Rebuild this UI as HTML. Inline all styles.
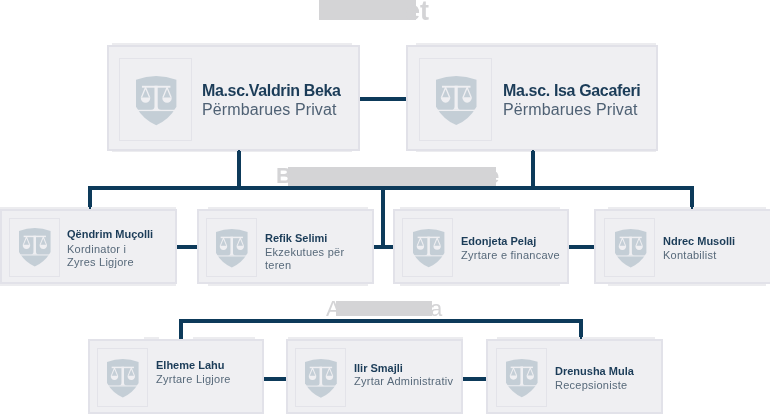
<!DOCTYPE html>
<html><head><meta charset="utf-8"><style>
html,body{margin:0;padding:0;background:#fff;width:770px;height:414px;overflow:hidden;position:relative}
body>div,body>svg{position:absolute}
.t{font-family:"Liberation Sans",sans-serif;white-space:nowrap;line-height:normal;will-change:transform}
.n{font-weight:700;color:#1b3c58}
.r{font-weight:400;color:#57697a;letter-spacing:0.25px}
.h{color:#d4d4d6;font-weight:400}
.b{font-weight:700}
</style></head><body>
<div style="left:319px;top:0px;width:97px;height:20px;background:#d4d4d6;"></div>
<div class="t h b" style="left:405px;top:-4.4px;font-size:27px;">et</div>
<div style="left:112px;top:43px;width:240px;height:2px;background:#ececef;"></div>
<div style="left:112px;top:151px;width:240px;height:1px;background:#ececef;"></div>
<div style="left:107px;top:45px;width:253px;height:106px;background:#efeff2;box-sizing:border-box;border:2px solid #e1e1e8"></div>
<div style="left:119.25px;top:58.2px;width:73.0px;height:83.0px;box-sizing:border-box;border:1.5px solid #e3e3e9"></div>
<svg style="position:absolute;left:136.3px;top:76.3px;overflow:visible" width="40.4" height="49.2" viewBox="0 0 40 49.2" preserveAspectRatio="none"><path d="M0,3.7 Q20,-3.7 40,3.7 L40,30.7 Q32.95,43.45 20,49.2 Q7.05,43.45 0,30.7 Z" fill="#c4ced6"/><g fill="#efeff2" stroke="none"><rect x="-1" y="33.8" width="42" height="1.3"/><rect x="5.9" y="9.8" width="28.2" height="1.9"/><path d="M18.3,9.8 L21.5,9.8 L21.5,30.5 Q21.5,33.9 25,33.9 L14.8,33.9 Q18.3,33.9 18.3,30.5 Z"/><path d="M4.7,21.4 A4.75,5.3 0 0 0 14.2,21.4 Z"/><path d="M26,21.4 A4.75,5.3 0 0 0 35.5,21.4 Z"/></g><g stroke="#efeff2" stroke-width="1.3" fill="none" stroke-linejoin="round"><path d="M5.4,21.5 L9.45,11.5 L13.5,21.5"/><path d="M26.7,21.5 L30.75,11.5 L34.8,21.5"/></g></svg>
<div class="t n" style="left:202px;top:81.52px;font-size:16px;line-height:normal;letter-spacing:-0.35px">Ma.sc.Valdrin Beka</div>
<div class="t r" style="left:202px;top:100.52px;font-size:16px;line-height:normal;letter-spacing:0.12px;color:#4f6174">Përmbarues Privat</div>
<div style="left:416px;top:43px;width:240px;height:2px;background:#ececef;"></div>
<div style="left:416px;top:151px;width:240px;height:1px;background:#ececef;"></div>
<div style="left:406px;top:45px;width:252px;height:106px;background:#efeff2;box-sizing:border-box;border:2px solid #e1e1e8"></div>
<div style="left:419.45px;top:58.2px;width:72.4px;height:82.7px;box-sizing:border-box;border:1.5px solid #e3e3e9"></div>
<svg style="position:absolute;left:435.6px;top:76.4px;overflow:visible" width="40.5" height="49.1" viewBox="0 0 40 49.2" preserveAspectRatio="none"><path d="M0,3.7 Q20,-3.7 40,3.7 L40,30.7 Q32.95,43.45 20,49.2 Q7.05,43.45 0,30.7 Z" fill="#c4ced6"/><g fill="#efeff2" stroke="none"><rect x="-1" y="33.8" width="42" height="1.3"/><rect x="5.9" y="9.8" width="28.2" height="1.9"/><path d="M18.3,9.8 L21.5,9.8 L21.5,30.5 Q21.5,33.9 25,33.9 L14.8,33.9 Q18.3,33.9 18.3,30.5 Z"/><path d="M4.7,21.4 A4.75,5.3 0 0 0 14.2,21.4 Z"/><path d="M26,21.4 A4.75,5.3 0 0 0 35.5,21.4 Z"/></g><g stroke="#efeff2" stroke-width="1.3" fill="none" stroke-linejoin="round"><path d="M5.4,21.5 L9.45,11.5 L13.5,21.5"/><path d="M26.7,21.5 L30.75,11.5 L34.8,21.5"/></g></svg>
<div class="t n" style="left:503px;top:81.52px;font-size:16px;line-height:normal;letter-spacing:-0.35px">Ma.sc. Isa Gacaferi</div>
<div class="t r" style="left:503px;top:100.52px;font-size:16px;line-height:normal;letter-spacing:0.12px;color:#4f6174">Përmbarues Privat</div>
<div class="t h b" style="left:276px;top:162.8px;font-size:22px;">B</div>
<div class="t h b" style="left:486.8px;top:162.8px;font-size:22px;">e</div>
<div style="left:288px;top:167px;width:208px;height:19px;background:#d4d4d6;"></div>
<div style="left:0px;top:207px;width:176px;height:2px;background:#ececef;"></div>
<div style="left:0px;top:284px;width:176px;height:2px;background:#ececef;"></div>
<div style="left:0px;top:209px;width:177px;height:75px;background:#efeff2;box-sizing:border-box;border:2px solid #e2e2e9"></div>
<div style="left:9.15px;top:218.35px;width:51.0px;height:58.5px;box-sizing:border-box;border:1.2px solid #e3e3e9"></div>
<svg style="position:absolute;left:19.2px;top:228.4px;overflow:visible" width="31.6" height="38.5" viewBox="0 0 40 49.2" preserveAspectRatio="none"><path d="M0,3.7 Q20,-3.7 40,3.7 L40,30.7 Q32.95,43.45 20,49.2 Q7.05,43.45 0,30.7 Z" fill="#c4ced6"/><g fill="#efeff2" stroke="none"><rect x="-1" y="33.8" width="42" height="1.3"/><rect x="5.9" y="9.8" width="28.2" height="1.9"/><path d="M18.3,9.8 L21.5,9.8 L21.5,30.5 Q21.5,33.9 25,33.9 L14.8,33.9 Q18.3,33.9 18.3,30.5 Z"/><path d="M4.7,21.4 A4.75,5.3 0 0 0 14.2,21.4 Z"/><path d="M26,21.4 A4.75,5.3 0 0 0 35.5,21.4 Z"/></g><g stroke="#efeff2" stroke-width="1.3" fill="none" stroke-linejoin="round"><path d="M5.4,21.5 L9.45,11.5 L13.5,21.5"/><path d="M26.7,21.5 L30.75,11.5 L34.8,21.5"/></g></svg>
<div class="t n" style="left:67px;top:228.44px;font-size:11px;line-height:normal">Qëndrim Muçolli</div>
<div class="t r" style="left:67px;top:242.74px;font-size:11px;line-height:normal">Kordinator i</div>
<div class="t r" style="left:67px;top:256.35px;font-size:11px;line-height:normal">Zyres Ligjore</div>
<div style="left:208px;top:207px;width:160px;height:2px;background:#ececef;"></div>
<div style="left:208px;top:284px;width:160px;height:2px;background:#ececef;"></div>
<div style="left:197px;top:209px;width:177px;height:75px;background:#efeff2;box-sizing:border-box;border:2px solid #e2e2e9"></div>
<div style="left:206.35px;top:218.35px;width:50.5px;height:58.5px;box-sizing:border-box;border:1.2px solid #e3e3e9"></div>
<svg style="position:absolute;left:216px;top:229.2px;overflow:visible" width="31.6" height="38.5" viewBox="0 0 40 49.2" preserveAspectRatio="none"><path d="M0,3.7 Q20,-3.7 40,3.7 L40,30.7 Q32.95,43.45 20,49.2 Q7.05,43.45 0,30.7 Z" fill="#c4ced6"/><g fill="#efeff2" stroke="none"><rect x="-1" y="33.8" width="42" height="1.3"/><rect x="5.9" y="9.8" width="28.2" height="1.9"/><path d="M18.3,9.8 L21.5,9.8 L21.5,30.5 Q21.5,33.9 25,33.9 L14.8,33.9 Q18.3,33.9 18.3,30.5 Z"/><path d="M4.7,21.4 A4.75,5.3 0 0 0 14.2,21.4 Z"/><path d="M26,21.4 A4.75,5.3 0 0 0 35.5,21.4 Z"/></g><g stroke="#efeff2" stroke-width="1.3" fill="none" stroke-linejoin="round"><path d="M5.4,21.5 L9.45,11.5 L13.5,21.5"/><path d="M26.7,21.5 L30.75,11.5 L34.8,21.5"/></g></svg>
<div class="t n" style="left:265px;top:231.94px;font-size:11px;line-height:normal">Refik Selimi</div>
<div class="t r" style="left:265px;top:246.04px;font-size:11px;line-height:normal">Ekzekutues për</div>
<div class="t r" style="left:265px;top:259.44px;font-size:11px;line-height:normal">teren</div>
<div style="left:400px;top:207px;width:160px;height:2px;background:#ececef;"></div>
<div style="left:400px;top:284px;width:160px;height:2px;background:#ececef;"></div>
<div style="left:393px;top:209px;width:176px;height:75px;background:#efeff2;box-sizing:border-box;border:2px solid #e2e2e9"></div>
<div style="left:402.35px;top:218.35px;width:50.5px;height:58.5px;box-sizing:border-box;border:1.2px solid #e3e3e9"></div>
<svg style="position:absolute;left:412.9px;top:229.2px;overflow:visible" width="31.4" height="38.3" viewBox="0 0 40 49.2" preserveAspectRatio="none"><path d="M0,3.7 Q20,-3.7 40,3.7 L40,30.7 Q32.95,43.45 20,49.2 Q7.05,43.45 0,30.7 Z" fill="#c4ced6"/><g fill="#efeff2" stroke="none"><rect x="-1" y="33.8" width="42" height="1.3"/><rect x="5.9" y="9.8" width="28.2" height="1.9"/><path d="M18.3,9.8 L21.5,9.8 L21.5,30.5 Q21.5,33.9 25,33.9 L14.8,33.9 Q18.3,33.9 18.3,30.5 Z"/><path d="M4.7,21.4 A4.75,5.3 0 0 0 14.2,21.4 Z"/><path d="M26,21.4 A4.75,5.3 0 0 0 35.5,21.4 Z"/></g><g stroke="#efeff2" stroke-width="1.3" fill="none" stroke-linejoin="round"><path d="M5.4,21.5 L9.45,11.5 L13.5,21.5"/><path d="M26.7,21.5 L30.75,11.5 L34.8,21.5"/></g></svg>
<div class="t n" style="left:461px;top:235.14px;font-size:11px;line-height:normal">Edonjeta Pelaj</div>
<div class="t r" style="left:461px;top:248.65px;font-size:11px;line-height:normal">Zyrtare e financave</div>
<div style="left:608px;top:207px;width:158px;height:2px;background:#ececef;"></div>
<div style="left:608px;top:284px;width:158px;height:2px;background:#ececef;"></div>
<div style="left:594px;top:209px;width:178px;height:75px;background:#efeff2;box-sizing:border-box;border:2px solid #e2e2e9"></div>
<div style="left:604.15px;top:218.35px;width:50.8px;height:58.5px;box-sizing:border-box;border:1.2px solid #e3e3e9"></div>
<svg style="position:absolute;left:614.8px;top:229.2px;overflow:visible" width="31.4" height="38.5" viewBox="0 0 40 49.2" preserveAspectRatio="none"><path d="M0,3.7 Q20,-3.7 40,3.7 L40,30.7 Q32.95,43.45 20,49.2 Q7.05,43.45 0,30.7 Z" fill="#c4ced6"/><g fill="#efeff2" stroke="none"><rect x="-1" y="33.8" width="42" height="1.3"/><rect x="5.9" y="9.8" width="28.2" height="1.9"/><path d="M18.3,9.8 L21.5,9.8 L21.5,30.5 Q21.5,33.9 25,33.9 L14.8,33.9 Q18.3,33.9 18.3,30.5 Z"/><path d="M4.7,21.4 A4.75,5.3 0 0 0 14.2,21.4 Z"/><path d="M26,21.4 A4.75,5.3 0 0 0 35.5,21.4 Z"/></g><g stroke="#efeff2" stroke-width="1.3" fill="none" stroke-linejoin="round"><path d="M5.4,21.5 L9.45,11.5 L13.5,21.5"/><path d="M26.7,21.5 L30.75,11.5 L34.8,21.5"/></g></svg>
<div class="t n" style="left:663px;top:235.24px;font-size:11px;line-height:normal">Ndrec Musolli</div>
<div class="t r" style="left:663px;top:248.74px;font-size:11px;line-height:normal">Kontabilist</div>
<div class="t h" style="left:326px;top:295.9px;font-size:22px;">A</div>
<div class="t h" style="left:430px;top:296px;font-size:22px;">a</div>
<div style="left:336px;top:301px;width:96px;height:15px;background:#d4d4d6;"></div>
<div style="left:144px;top:337px;width:15px;height:2px;background:#ececef;"></div>
<div style="left:193px;top:337px;width:62px;height:2px;background:#ececef;"></div>
<div style="left:193px;top:414px;width:62px;height:2px;background:#ececef;"></div>
<div style="left:88px;top:339px;width:176px;height:75px;background:#efeff2;box-sizing:border-box;border:2px solid #e2e2e9"></div>
<div style="left:97.15px;top:348.35px;width:50.8px;height:58.4px;box-sizing:border-box;border:1.2px solid #e3e3e9"></div>
<svg style="position:absolute;left:107.3px;top:358.6px;overflow:visible" width="31.6" height="38.5" viewBox="0 0 40 49.2" preserveAspectRatio="none"><path d="M0,3.7 Q20,-3.7 40,3.7 L40,30.7 Q32.95,43.45 20,49.2 Q7.05,43.45 0,30.7 Z" fill="#c4ced6"/><g fill="#efeff2" stroke="none"><rect x="-1" y="33.8" width="42" height="1.3"/><rect x="5.9" y="9.8" width="28.2" height="1.9"/><path d="M18.3,9.8 L21.5,9.8 L21.5,30.5 Q21.5,33.9 25,33.9 L14.8,33.9 Q18.3,33.9 18.3,30.5 Z"/><path d="M4.7,21.4 A4.75,5.3 0 0 0 14.2,21.4 Z"/><path d="M26,21.4 A4.75,5.3 0 0 0 35.5,21.4 Z"/></g><g stroke="#efeff2" stroke-width="1.3" fill="none" stroke-linejoin="round"><path d="M5.4,21.5 L9.45,11.5 L13.5,21.5"/><path d="M26.7,21.5 L30.75,11.5 L34.8,21.5"/></g></svg>
<div class="t n" style="left:156px;top:359.44px;font-size:11px;line-height:normal">Elheme Lahu</div>
<div class="t r" style="left:156px;top:372.94px;font-size:11px;line-height:normal">Zyrtare Ligjore</div>
<div style="left:288px;top:337px;width:175px;height:2px;background:#ececef;"></div>
<div style="left:288px;top:414px;width:175px;height:2px;background:#ececef;"></div>
<div style="left:286px;top:339px;width:177px;height:75px;background:#efeff2;box-sizing:border-box;border:2px solid #e2e2e9"></div>
<div style="left:295.2px;top:348.35px;width:50.7px;height:58.4px;box-sizing:border-box;border:1.2px solid #e3e3e9"></div>
<svg style="position:absolute;left:305px;top:359.2px;overflow:visible" width="31.8" height="38.7" viewBox="0 0 40 49.2" preserveAspectRatio="none"><path d="M0,3.7 Q20,-3.7 40,3.7 L40,30.7 Q32.95,43.45 20,49.2 Q7.05,43.45 0,30.7 Z" fill="#c4ced6"/><g fill="#efeff2" stroke="none"><rect x="-1" y="33.8" width="42" height="1.3"/><rect x="5.9" y="9.8" width="28.2" height="1.9"/><path d="M18.3,9.8 L21.5,9.8 L21.5,30.5 Q21.5,33.9 25,33.9 L14.8,33.9 Q18.3,33.9 18.3,30.5 Z"/><path d="M4.7,21.4 A4.75,5.3 0 0 0 14.2,21.4 Z"/><path d="M26,21.4 A4.75,5.3 0 0 0 35.5,21.4 Z"/></g><g stroke="#efeff2" stroke-width="1.3" fill="none" stroke-linejoin="round"><path d="M5.4,21.5 L9.45,11.5 L13.5,21.5"/><path d="M26.7,21.5 L30.75,11.5 L34.8,21.5"/></g></svg>
<div class="t n" style="left:354px;top:362.05px;font-size:11px;line-height:normal">Ilir Smajli</div>
<div class="t r" style="left:354px;top:375.15px;font-size:11px;line-height:normal">Zyrtar Administrativ</div>
<div style="left:497px;top:337px;width:158px;height:2px;background:#ececef;"></div>
<div style="left:497px;top:414px;width:158px;height:2px;background:#ececef;"></div>
<div style="left:486px;top:339px;width:177px;height:75px;background:#efeff2;box-sizing:border-box;border:2px solid #e2e2e9"></div>
<div style="left:496.15px;top:348.35px;width:50.8px;height:58.4px;box-sizing:border-box;border:1.2px solid #e3e3e9"></div>
<svg style="position:absolute;left:506.4px;top:359.2px;overflow:visible" width="31.6" height="38.2" viewBox="0 0 40 49.2" preserveAspectRatio="none"><path d="M0,3.7 Q20,-3.7 40,3.7 L40,30.7 Q32.95,43.45 20,49.2 Q7.05,43.45 0,30.7 Z" fill="#c4ced6"/><g fill="#efeff2" stroke="none"><rect x="-1" y="33.8" width="42" height="1.3"/><rect x="5.9" y="9.8" width="28.2" height="1.9"/><path d="M18.3,9.8 L21.5,9.8 L21.5,30.5 Q21.5,33.9 25,33.9 L14.8,33.9 Q18.3,33.9 18.3,30.5 Z"/><path d="M4.7,21.4 A4.75,5.3 0 0 0 14.2,21.4 Z"/><path d="M26,21.4 A4.75,5.3 0 0 0 35.5,21.4 Z"/></g><g stroke="#efeff2" stroke-width="1.3" fill="none" stroke-linejoin="round"><path d="M5.4,21.5 L9.45,11.5 L13.5,21.5"/><path d="M26.7,21.5 L30.75,11.5 L34.8,21.5"/></g></svg>
<div class="t n" style="left:555px;top:365.15px;font-size:11px;line-height:normal">Drenusha Mula</div>
<div class="t r" style="left:555px;top:378.65px;font-size:11px;line-height:normal">Recepsioniste</div>
<div style="left:360px;top:97px;width:46px;height:4px;background:#0d3a5a;"></div>
<div style="left:237px;top:151px;width:4px;height:35px;background:#0d3a5a;"></div>
<div style="left:531px;top:151px;width:4px;height:35px;background:#0d3a5a;"></div>
<div style="left:238px;top:149.5px;width:1.5999999999999943px;height:2.0px;background:#0d3a5a;"></div>
<div style="left:532px;top:149.5px;width:1.6000000000000227px;height:2.0px;background:#0d3a5a;"></div>
<div style="left:88px;top:186px;width:606px;height:4px;background:#0d3a5a;"></div>
<div style="left:88px;top:186px;width:4px;height:21px;background:#0d3a5a;"></div>
<div style="left:690px;top:186px;width:4px;height:21px;background:#0d3a5a;"></div>
<div style="left:89px;top:207px;width:1.5999999999999943px;height:2px;background:#0d3a5a;"></div>
<div style="left:691px;top:207px;width:1.6000000000000227px;height:2px;background:#0d3a5a;"></div>
<div style="left:381px;top:186px;width:4px;height:63px;background:#0d3a5a;"></div>
<div style="left:374px;top:245px;width:19px;height:4px;background:#0d3a5a;"></div>
<div style="left:177px;top:245px;width:20px;height:4px;background:#0d3a5a;"></div>
<div style="left:569px;top:245px;width:25px;height:4px;background:#0d3a5a;"></div>
<div style="left:179px;top:319px;width:404px;height:4px;background:#0d3a5a;"></div>
<div style="left:179px;top:319px;width:4px;height:20px;background:#0d3a5a;"></div>
<div style="left:579px;top:319px;width:4px;height:18px;background:#0d3a5a;"></div>
<div style="left:580px;top:337px;width:1.6000000000000227px;height:2px;background:#0d3a5a;"></div>
<div style="left:264px;top:377px;width:22px;height:4px;background:#0d3a5a;"></div>
<div style="left:463px;top:377px;width:23px;height:4px;background:#0d3a5a;"></div>
</body></html>
